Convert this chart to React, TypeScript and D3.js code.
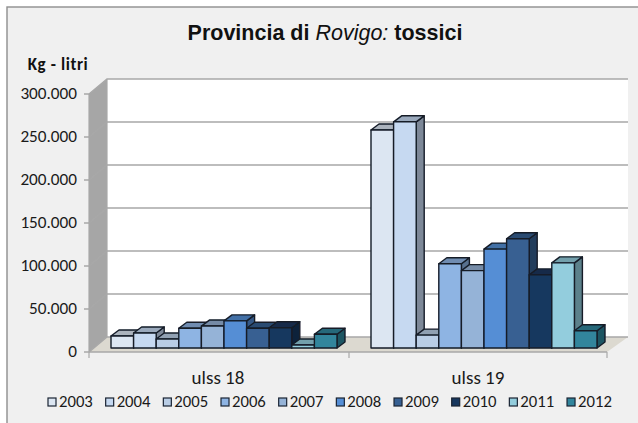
import React from "react";
import * as d3 from "d3";

const categories = ["ulss 18", "ulss 19"];
const years = ["2003","2004","2005","2006","2007","2008","2009","2010","2011","2012"];
const ulss18 = [14000,17500,10500,23000,25500,31500,23000,23500,3500,16000];
const ulss19 = [253500,263000,15000,98000,90000,115000,127000,85000,99000,20000];
const colors = ["#dce6f2","#c6d9f1","#b9cde5","#8eb4e3","#95b3d7","#558ed5","#376092","#17375e","#93cddd","#31859c"];
const yTicks = [0,50000,100000,150000,200000,250000,300000];
const fmt = (v: number) => v === 0 ? "0" : d3.format(",")(v).replace(/,/g, ".");

const W = 638, H = 423;
const DX = 18, DY = 15;
const barDX = 8, barDY = 6;
const y = d3.scaleLinear().domain([0, 300000]).range([352, 94]);
const barY = d3.scaleLinear().domain([0, 300000]).range([348, 90]);
const groupX = d3.scaleBand().domain(categories).range([89, 609]);
const barX = (g: string, i: number) => groupX(g)! + 22 + i * 22.6;
const barW = 22.6;
const font = "Carlito, Calibri, Lato, 'Open Sans', sans-serif";
const shade = (c: string, k: number) => d3.rgb(c).darker(k).formatHex();

export default function App() {
  const groups = [
    { name: categories[0], values: ulss18 },
    { name: categories[1], values: ulss19 },
  ];
  return (
    <svg width={W} height={H} style={{ position: "fixed", left: 0, top: 0, background: "#fff" }}>
      <defs>
        <filter id="soft"><feGaussianBlur stdDeviation="0.35" /></filter>
      </defs>
      <rect x={7} y={7} width={W + 10} height={H + 10} fill="#f0f0f0" stroke="#8e8e8e" strokeWidth={1.4} />
      <text x={325} y={40} textAnchor="middle" fontFamily="Liberation Sans" fontWeight={700} fontSize={21.5} fill="#111">
        Provincia di <tspan fontStyle="italic" fontWeight={400}>Rovigo:</tspan> tossici
      </text>
      <text x={58} y={70} textAnchor="middle" fontFamily={font} fontWeight={700} fontSize={17} letterSpacing={0.6} fill="#111">Kg - litri</text>

      <rect x={89 + DX} y={y(300000) - DY} width={521} height={y(0) - y(300000)} fill="#fff" />
      <polygon points={`89,${y(300000)} ${89 + DX},${y(300000) - DY} ${89 + DX},${y(0) - DY} 89,${y(0)}`} fill="#a6a6a6" />
      <polygon points={`89,${y(0)} ${89 + DX},${y(0) - DY} 628,${y(0) - DY} 607,${y(0)}`} fill="#dcd9d0" />
      <g filter="url(#soft)">
        {yTicks.map(t => (
          <polyline key={t} points={`84,${y(t)} 89,${y(t)} ${89 + DX},${y(t) - DY} 628,${y(t) - DY}`} fill="none" stroke="#a8a8a8" strokeWidth={1.4} />
        ))}
        <line x1={89} x2={607} y1={y(0)} y2={y(0)} stroke="#a8a8a8" strokeWidth={1.4} />
        <line x1={89} x2={89} y1={y(300000)} y2={y(0) + 6} stroke="#a8a8a8" strokeWidth={1.2} />
        <line x1={349} x2={349} y1={y(0)} y2={y(0) + 6} stroke="#a8a8a8" strokeWidth={1.2} />
        <line x1={607} x2={607} y1={y(0)} y2={y(0) + 6} stroke="#a8a8a8" strokeWidth={1.2} />
        <line x1={107} x2={107} y1={y(300000) - DY} y2={y(0) - DY} stroke="#a8a8a8" strokeWidth={1.2} />
      </g>

      {yTicks.map(t => (
        <text key={t} x={77} y={y(t) + 5} textAnchor="end" fontFamily={font} fontSize={17.2} fill="#1a1a1a">{fmt(t)}</text>
      ))}

      <g filter="url(#soft)">
        {groups.map(g => (
          <g key={g.name} strokeLinejoin="round">
            {g.values.map((v, i) => {
              const x0 = barX(g.name, i), x1 = x0 + barW, top = barY(v), base = barY(0);
              const c = colors[i];
              return (
                <g key={i} stroke="#141c28" strokeWidth={1.4}>
                  <polygon points={`${x1},${top} ${x1 + barDX},${top - barDY} ${x1 + barDX},${base - barDY} ${x1},${base}`} fill={shade(c, 1.3)} />
                  <polygon points={`${x0},${top} ${x0 + barDX},${top - barDY} ${x1 + barDX},${top - barDY} ${x1},${top}`} fill={shade(c, 0.7)} />
                  <rect x={x0} y={top} width={barW} height={base - top} fill={c} />
                </g>
              );
            })}
          </g>
        ))}
      </g>

      {groups.map(g => (
        <text key={g.name} x={groupX(g.name)! + groupX.bandwidth() / 2 - 1} y={384} textAnchor="middle" fontFamily={font} fontSize={19} fill="#1a1a1a">{g.name}</text>
      ))}

      {years.map((yr, i) => {
        const lx = 48 + i * 57.67;
        return (
          <g key={yr}>
            <rect x={lx} y={398} width={8} height={8} fill={colors[i]} stroke="#1a2433" strokeWidth={1.2} />
            <text x={lx + 11} y={407} fontFamily={font} fontSize={16.7} fill="#1a1a1a">{yr}</text>
          </g>
        );
      })}
    </svg>
  );
}
